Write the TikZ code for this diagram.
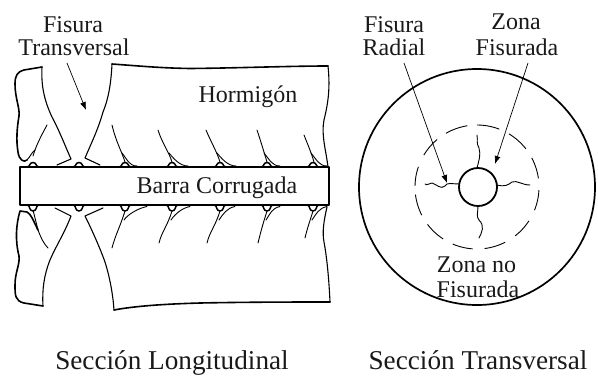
\documentclass[tikz,border=0pt]{standalone}
\usepackage{fontspec}
\setmainfont{Liberation Serif}
\usetikzlibrary{arrows.meta}
\tikzset{
  outline/.style={line width=1.1pt,line join=round,line cap=round},
  heavy/.style={line width=1.6pt,line join=round,line cap=round},
  crack/.style={line width=0.9pt,line cap=round},
  leader/.style={line width=0.7pt,-{Latex[length=8pt,width=6pt]}},
  lbl/.style={font=\fontsize{24}{26}\selectfont,inner sep=0pt,anchor=base,text=black!90},
  captext/.style={font=\fontsize{27.2}{30}\selectfont,inner sep=0pt,anchor=base,text=black!90}
}
\begin{document}
\begin{tikzpicture}[x=1pt,y=-1pt]
\useasboundingbox (0,0) rectangle (598,376);
% concrete outlines
\draw[heavy] (42,67) -- (24,70) .. controls (17,72) and (15,76) .. (15,84) .. controls (15,98) and (20,108) .. (19,116) .. controls (17,128) and (16,140) .. (18,152) .. controls (19,160) and (24,163) .. (27,160);
\draw[outline] (42,67) .. controls (41,85) and (44,100) .. (52,117) .. controls (60,132) and (66,148) .. (71,159) -- (57,165);
\draw[crack] (47,125) .. controls (40,138) and (36,146) .. (33,156);
\draw[crack] (27,160) .. controls (30,157) and (32,152) .. (35,150);
\draw[outline] (100,165) -- (85,158) .. controls (90,146) and (98,130) .. (103,112) .. controls (108,100) and (111,85) .. (112,64);
\draw[heavy] (112,64) .. controls (140,66) and (160,68) .. (190,68.5) .. controls (240,68) and (290,66) .. (328,66);
\draw[outline] (328,66) .. controls (330,85) and (329,100) .. (324,120) .. controls (321,135) and (326,150) .. (328,167);
% bar
\draw[outline,fill=white] (329,167) -- (20,167) -- (20,205) -- (329,205) -- cycle;
\foreach \x in {33,79,125,172,220,267,313}{
  \draw[line width=1.5pt,line join=round] (\x-5,166.5) .. controls (\x-3,166.5) and (\x-3.5,162.5) .. (\x,162.5) .. controls (\x+3.5,162.5) and (\x+3,166.5) .. (\x+5,166.5);
  \draw[line width=1.5pt,line join=round] (\x-5,205.5) .. controls (\x-3,205.5) and (\x-4,211) .. (\x,211) .. controls (\x+4,211) and (\x+3,205.5) .. (\x+5,205.5);
}
\draw[line width=1.5pt] (20,167) -- (329,167) (20,205) -- (329,205);
% upper cracks
\foreach \xa/\ya/\xb/\yb/\xc/\yc/\xd in {
  112/125/116/142/125/162/137,
  158/130/162/143/172/162/188,
  206/130/211/142/220/162/236,
  257/130/261/142/267/162/280,
  304/135/308/145/314/162/327}{
  \draw[crack] (\xa,\ya) .. controls (\xb,\yb) and (\xc-3,\yc-10) .. (\xc,\yc);
  \draw[crack] (\xc-3,\yc-9) .. controls (\xc+2,\yc-3) and (\xd-8,166) .. (\xd,166);
}
% lower cracks
\foreach \xa/\ya/\xc/\yc/\xd in {
  112/248/125/211/147,
  159/243/172/211/190,
  207/243/220/211/235,
  258/243/267/211/280,
  305/238/313/211/327}{
  \draw[crack] (\xa,\ya) .. controls (\xa+3,\ya-12) and (\xc-5,\yc+16) .. (\xc,\yc);
  \draw[crack] (\xc-1,\yc+9) .. controls (\xc+3,\yc+3) and (\xd-8,208) .. (\xd,206.5);
}
% lower fragments
\draw[heavy] (43,306) -- (24,303) .. controls (15,301) and (15,295) .. (15,285) .. controls (15,272) and (20,265) .. (19,256) .. controls (15,240) and (16,225) .. (20,211) -- (27,212) .. controls (31,214) and (33,220) .. (38,230);
\draw[crack] (33,210) -- (38,230) .. controls (41,238) and (44,244) .. (48,248);
\draw[outline] (55,208) -- (71,216) .. controls (65,232) and (55,248) .. (50,260) .. controls (44,275) and (42,290) .. (43,306);
\draw[outline] (103,208) -- (85,216) .. controls (92,230) and (100,248) .. (105,262) .. controls (110,278) and (113,295) .. (114,310);
\draw[heavy] (114,310) .. controls (135,306) and (165,304) .. (200,303) .. controls (250,302) and (300,302) .. (330,302);
\draw[outline] (327,207) .. controls (324,220) and (322,232) .. (324,242) .. controls (327,258) and (329,280) .. (330,302);
% transverse section
\coordinate (c) at (477,187);
\draw[line width=1.7pt] (c) circle[radius=118];
\foreach \a/\b in {240/261,270/291,301/322,332/352,3/22,33/52,63/83,94/113,123/143,153/173,181/199,211/230}{
  \draw[line width=0.9pt] plot[domain=\a:\b,samples=12,smooth] ({477+62*cos(\x)},{187+62*sin(\x)});
}
\draw[crack] (459,184) .. controls (452,184) and (447,182) .. (445,186) .. controls (441,190) and (436,184) .. (432,183) .. controls (429,183) and (427,186) .. (425,184);
\draw[crack] (497,185) .. controls (505,187) and (508,185) .. (512,182) .. controls (517,180) and (522,185) .. (530,185);
\draw[crack] (477,168) .. controls (479,160) and (481,155) .. (479,148) .. controls (476,143) and (478,140) .. (477,135);
\draw[crack] (478,206) .. controls (478,212) and (476,217) .. (479,220) .. controls (485,226) and (482,232) .. (479,238);
\node[draw,circle,line width=1.8pt,minimum size=38pt,inner sep=0pt,fill=white] (bar) at (478,187) {};
% labels
\node[lbl] (ft1) at (73,32) {Fisura};
\node[lbl] (ft2) at (74,55) {Transversal};
\node[lbl] (horm) at (248,102) {Hormigón};
\node[lbl] (barra) at (217,193) {Barra Corrugada};
\node[lbl] (fr1) at (394,32) {Fisura};
\node[lbl] (fr2) at (394,55) {Radial};
\node[lbl] (zf1) at (516,29) {Zona};
\node[lbl] (zf2) at (517,55) {Fisurada};
\node[lbl] (zn1) at (476.5,272) {Zona no};
\node[lbl] (zn2) at (478,297) {Fisurada};
\node[captext] (sl) at (172,369.5) {Sección Longitudinal};
\node[captext] (st) at (478,369.5) {Sección Transversal};
% leaders
\coordinate (ta) at (67,63); \coordinate (tb) at (86,110);
\coordinate (ra) at (404,63); \coordinate (rb) at (447,183);
\coordinate (za) at (528,63); \coordinate (zb) at (495,164);
\draw[leader] (ta) -- (tb);
\draw[leader] (ra) -- (rb);
\draw[leader] (za) -- (zb);
\end{tikzpicture}
\end{document}
